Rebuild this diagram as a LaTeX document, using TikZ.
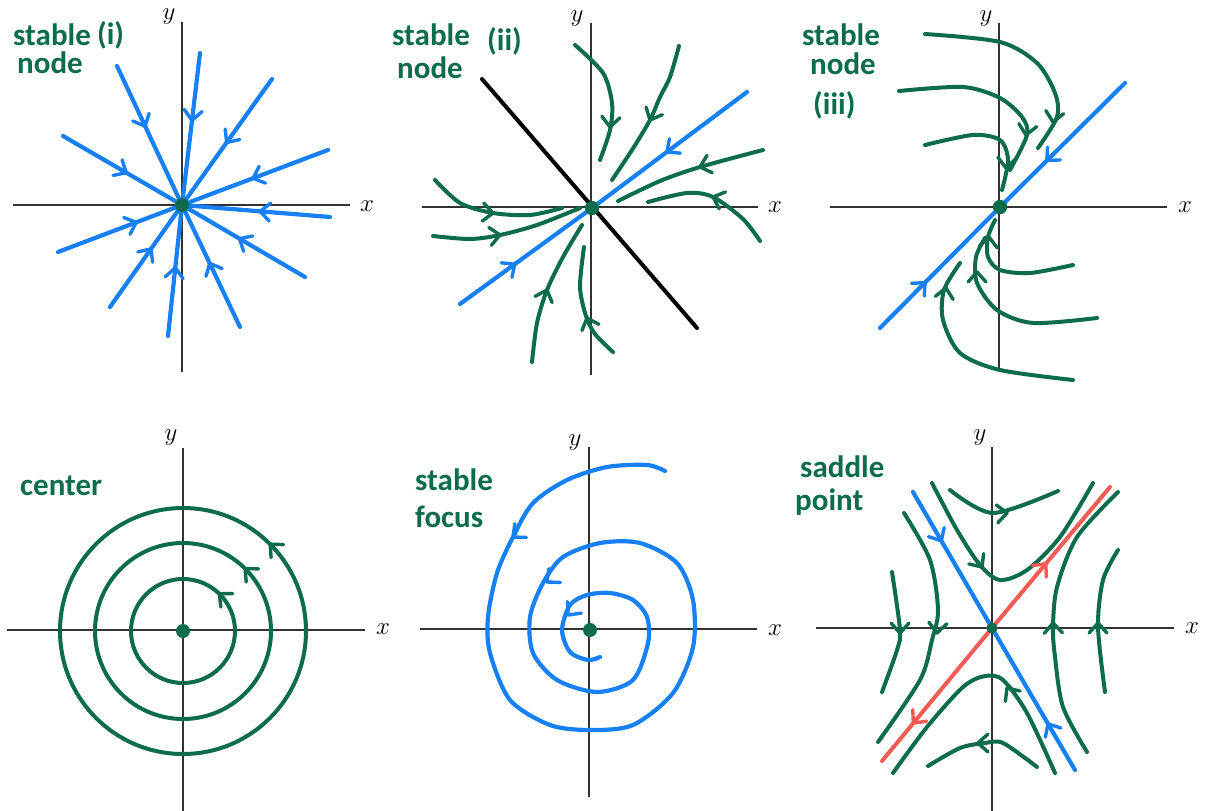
\documentclass[tikz,border=0pt]{standalone}
\usepackage{fontspec}
\setmainfont{Carlito}
\usetikzlibrary{arrows.meta,decorations.markings}
\definecolor{pgreen}{RGB}{12,108,76}
\definecolor{pblue}{RGB}{24,128,245}
\definecolor{pred}{RGB}{242,92,84}
\definecolor{paxis}{RGB}{50,50,50}
\tikzset{
  axisline/.style={draw=paxis, line width=1.9pt},
  bluecurve/.style={color=pblue, line width=4.2pt, line cap=round, line join=round},
  greencurve/.style={color=pgreen, line width=4pt, line cap=round, line join=round},
  redcurve/.style={color=pred, line width=4pt, line cap=round},
  blackcurve/.style={color=black, line width=4pt, line cap=round},
  midarrow/.style={postaction={decorate}, decoration={markings, mark=at position #1 with {\arrow{Straight Barb[length=10pt,width=18pt,line width=3.4pt,line cap=round]}}}},
  dotnode/.style={circle, fill=pgreen, inner sep=0pt, minimum size=14pt},
  axlabel/.style={font=\fontsize{40}{40}\selectfont, inner sep=0pt},
  lbl/.style={text=pgreen, font=\fontsize{31}{31}\selectfont\bfseries, inner sep=0pt, anchor=base west},
  garr/.style={pgreen, line width=3.4pt},
  barr/.style={pblue, line width=3.4pt},
  chev/.pic={\draw[pic actions, line cap=round, line join=round] (-10,-9) -- (0,0) -- (-10,9);},
}
\begin{document}
\begin{tikzpicture}[x=1pt,y=-1pt]
\fill[white] (0,0) rectangle (1205,811);
\useasboundingbox (0,0) rectangle (1205,811);

% ---------- Panel 1: stable node (i)
\draw[axisline] (13,205) -- (350,205);
\draw[axisline] (182,22) -- (182,372);
\node[axlabel] (x1) at (367,206) {$x$};
\node[axlabel] (y1) at (169,17) {$y$};
\node[dotnode] (o1) at (182,205) {};
\foreach \px/\py/\f in {117/66/0.45, 200/53/0.46, 272/79/0.52, 328/150/0.53, 330/217/0.49, 305/277/0.55, 240/327/0.54, 168/336/0.54, 110/307/0.59, 58/252/0.65, 63/136/0.55}{
  \draw[bluecurve, midarrow=\f] (\px,\py) -- (o1.center);
}
\node[dotnode] at (o1) {};
\node[lbl] (l1a) at (13,45) {stable};
\node[lbl] (l1b) at (97,44) {(i)};
\node[lbl] (l1c) at (17,73) {node};

% ---------- Panel 2: stable node (ii)
\draw[axisline] (422,207) -- (758,207);
\draw[axisline] (591,23) -- (591,375);
\node[axlabel] (x2) at (775,207) {$x$};
\node[axlabel] (y2) at (577,19) {$y$};
\node[dotnode] (o2) at (592,208) {};
\draw[blackcurve] (482,79) -- (697,328);
\draw[bluecurve, midarrow=0.53] (747,92) -- (o2.center);
\draw[bluecurve, midarrow=0.43] (460,304) -- (o2.center);
\draw[greencurve] plot[smooth] coordinates {(575,45) (603,73) (612,103) (610,130) (600,160)};
\pic[garr, rotate=-95] at (610,127) {chev};
\draw[greencurve] plot[smooth] coordinates {(679,46) (670,77) (660,97) (650,120) (632,150) (612,180)};
\pic[garr, rotate=-115] at (650,120) {chev};
\draw[greencurve] plot[smooth] coordinates {(763,150) (700,167) (660,181) (618,201)};
\pic[garr, rotate=-163] at (700,167) {chev};
\draw[greencurve] plot[smooth] coordinates {(760,241) (743,219) (713,197) (687,193) (648,202)};
\pic[garr, rotate=-200] at (713,197) {chev};
\draw[greencurve] plot[smooth] coordinates {(435,180) (460,203) (493,213) (530,215) (562,208)};
\pic[garr, rotate=-5] at (493,213) {chev};
\draw[greencurve] plot[smooth] coordinates {(433,236) (470,239) (500,235) (537,225) (580,208)};
\pic[garr, rotate=8] at (500,235) {chev};
\draw[greencurve] plot[smooth] coordinates {(532,362) (537,323) (547,290) (563,257) (582,225)};
\pic[garr, rotate=70] at (547,290) {chev};
\draw[greencurve] plot[smooth] coordinates {(613,352) (595,334) (586,316) (580,287) (584,247)};
\pic[garr, rotate=110] at (587,318) {chev};
\node[dotnode] at (o2) {};
\node[lbl] (l2a) at (392,45) {stable};
\node[lbl] (l2b) at (487,50) {(ii)};
\node[lbl] (l2c) at (397,78) {node};

% ---------- Panel 3: stable node (iii)
\draw[axisline] (830,207) -- (1167,207);
\draw[axisline] (999,23) -- (999,370);
\node[axlabel] (x3) at (1185,207) {$x$};
\node[axlabel] (y3) at (986,19) {$y$};
\node[dotnode] (o3) at (1000,207) {};
\draw[bluecurve, midarrow=0.64] (1125,83) -- (o3.center);
\draw[bluecurve, midarrow=0.39] (880,328) -- (o3.center);
\draw[greencurve] plot[smooth] coordinates {(925,34) (1000,42) (1037,63) (1055,93) (1057,117) (1038,148)};
\pic[garr, rotate=-100] at (1053,122) {chev};
\draw[greencurve] plot[smooth] coordinates {(899,91) (963,87) (1000,98) (1022,117) (1027,135) (1010,170)};
\pic[garr, rotate=-100] at (1026,135) {chev};
\draw[greencurve] plot[smooth] coordinates {(925,145) (973,135) (1000,140) (1008,160) (1002,190)};
\pic[garr, rotate=-95] at (1006,168) {chev};
\draw[greencurve] plot[smooth] coordinates {(1073,265) (1030,273) (1000,270) (988,257) (988,237) (995,220)};
\pic[garr, rotate=85] at (989,237) {chev};
\draw[greencurve] plot[smooth] coordinates {(1097,318) (1033,323) (997,310) (977,283) (976,257) (985,238)};
\pic[garr, rotate=90] at (977,272) {chev};
\draw[greencurve] plot[smooth] coordinates {(1073,380) (1000,370) (960,353) (943,320) (944,290) (960,263)};
\pic[garr, rotate=80] at (946,288) {chev};
\node[dotnode] at (o3) {};
\node[lbl] (l3a) at (802,45) {stable};
\node[lbl] (l3b) at (810,74) {node};
\node[lbl] (l3c) at (813,114) {(iii)};

% ---------- Panel 4: center
\draw[axisline] (7,630) -- (365,630);
\draw[axisline] (183,448) -- (183,811);
\node[axlabel] (x4) at (383,629) {$x$};
\node[axlabel] (y4) at (171,438) {$y$};
\node[dotnode] (o4) at (183,631) {};
\draw[greencurve, midarrow=0.135] ([xshift=52pt]o4.center) arc[start angle=0, end angle=-360, radius=52];
\draw[greencurve, midarrow=0.13] ([xshift=88pt]o4.center) arc[start angle=0, end angle=-360, radius=88];
\draw[greencurve, midarrow=0.128] ([xshift=123pt]o4.center) arc[start angle=0, end angle=-360, radius=123];
\node[lbl] (l4) at (20,495) {center};

% ---------- Panel 5: stable focus
\draw[axisline] (420,629) -- (757,629);
\draw[axisline] (589,447) -- (589,797);
\node[axlabel] (x5) at (775,630) {$x$};
\node[axlabel] (y5) at (575,443) {$y$};
\node[dotnode] (o5) at (590,630) {};
\draw[bluecurve] plot[smooth] coordinates {(665,471) (647,465) (607,467) (567,480) (533,503) (513,537) (497,573) (488,617) (490,653) (510,700) (550,725) (590,730) (633,725) (673,693) (693,647) (693,600) (677,563) (640,543) (600,543) (563,557) (543,583) (530,617) (533,653) (557,680) (597,692) (633,680) (648,643) (647,617) (633,600) (610,593) (587,595) (570,605) (562,630) (570,652) (588,660) (600,657)};
\pic[barr, rotate=-140] at (513,537) {chev};
\pic[barr, rotate=-140] at (547,582) {chev};
\pic[barr, rotate=-130] at (568,615) {chev};
\node[lbl] (l5a) at (415,490) {stable};
\node[lbl] (l5b) at (415,527) {focus};

% ---------- Panel 6: saddle point
\draw[axisline] (816,628) -- (1174,628);
\draw[axisline] (992,447) -- (992,811);
\node[axlabel] (x6) at (1192,628) {$x$};
\node[axlabel] (y6) at (980,438) {$y$};
\node[dotnode, minimum size=11pt] (o6) at (992,628) {};
\draw[greencurve] plot[smooth] coordinates {(950,490) (993,513) (1058,491)};
\pic[garr, rotate=5] at (1007,513) {chev};
\draw[greencurve] plot[smooth] coordinates {(932,483) (957,530) (980,565) (1000,580) (1027,570) (1060,537) (1093,483)};
\pic[garr, rotate=-55] at (982,567) {chev};
\draw[greencurve] plot[smooth] coordinates {(904,513) (930,560) (938,610) (932,640) (920,680) (878,742)};
\pic[garr, rotate=-95] at (937,633) {chev};
\draw[greencurve] plot[smooth] coordinates {(892,572) (900,630) (897,650) (882,692)};
\pic[garr, rotate=-90] at (900,633) {chev};
\draw[greencurve] plot[smooth] coordinates {(1118,492) (1077,537) (1057,587) (1053,627) (1055,657) (1063,707) (1087,752)};
\pic[garr, rotate=92] at (1053,623) {chev};
\draw[greencurve] plot[smooth] coordinates {(1118,550) (1103,580) (1098,627) (1105,692)};
\pic[garr, rotate=90] at (1098,623) {chev};
\draw[greencurve] plot[smooth] coordinates {(893,773) (927,727) (963,687) (985,676) (1003,680) (1027,713) (1055,773)};
\pic[garr, rotate=125] at (1007,688) {chev};
\draw[greencurve] plot[smooth] coordinates {(928,766) (960,748) (985,743) (1003,743) (1037,767)};
\pic[garr, rotate=180] at (978,743) {chev};
\draw[bluecurve, midarrow=0.375] (913,492) -- (o6.center);
\draw[bluecurve, midarrow=0.34] (1075,770) -- (o6.center);
\draw[redcurve, midarrow=0.47] (o6.center) -- (1110,487);
\draw[redcurve, midarrow=0.73] (o6.center) -- (882,761);
\node[dotnode, minimum size=11pt] at (o6) {};
\node[lbl] (l6a) at (800,477) {saddle};
\node[lbl] (l6b) at (795,510) {point};
\end{tikzpicture}
\end{document}
